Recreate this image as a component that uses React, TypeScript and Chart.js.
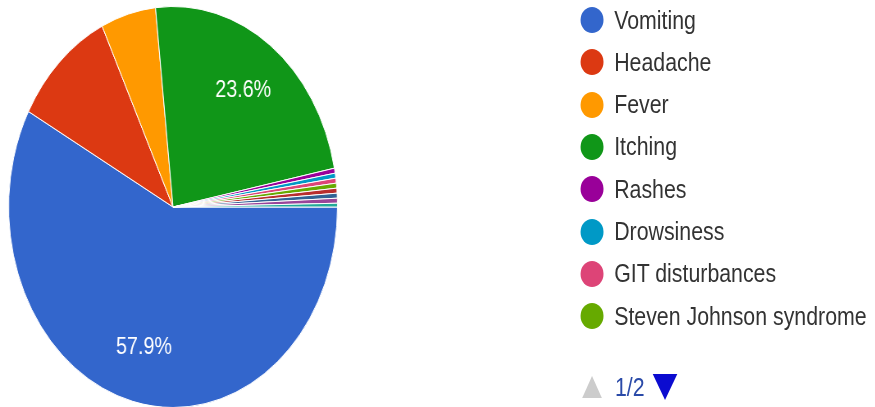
import React, { useEffect, useRef } from "react";
import { Chart, registerables } from "chart.js";

Chart.register(...registerables);

const categories = [
  "Vomiting",
  "Headache",
  "Fever",
  "Itching",
  "Rashes",
  "Drowsiness",
  "GIT disturbances",
  "Steven Johnson syndrome",
  "Nausea",
  "Diarrhoea",
  "Dizziness",
  "Abdominal pain",
];
const seriesValues = [57.9, 10.0, 5.4, 23.6, 0.4, 0.4, 0.4, 0.4, 0.4, 0.4, 0.4, 0.3];
const sliceColors = [
  "#3366cc",
  "#dc3912",
  "#ff9900",
  "#109618",
  "#990099",
  "#0099c6",
  "#dd4477",
  "#66aa00",
  "#b82e2e",
  "#316395",
  "#994499",
  "#22aa99",
];
const legendPageSize = 8;
const pagerLabel = "1/2";

const SQUISH = 0.82;
const FONT = "'Liberation Sans', Arial, sans-serif";

const sliceLabelPlugin = {
  id: "sliceLabels",
  afterDatasetsDraw(chart: any) {
    const meta = chart.getDatasetMeta(0);
    const data = chart.data.datasets[0].data as number[];
    const total = data.reduce((a, b) => a + b, 0);
    const ctx = chart.ctx;
    ctx.save();
    ctx.font = `24px ${FONT}`;
    ctx.fillStyle = "#ffffff";
    ctx.textAlign = "center";
    ctx.textBaseline = "middle";
    meta.data.forEach((arc: any, i: number) => {
      const pct = (data[i] / total) * 100;
      if (pct < 20) return;
      const { x, y, startAngle, endAngle, outerRadius } = arc.getProps(
        ["x", "y", "startAngle", "endAngle", "outerRadius"],
        true
      );
      const mid = (startAngle + endAngle) / 2;
      const r = outerRadius * 0.72;
      ctx.fillText(pct.toFixed(1) + "%", x + Math.cos(mid) * r, y + Math.sin(mid) * r);
    });
    ctx.restore();
  },
};

export default function App() {
  const canvasRef = useRef<HTMLCanvasElement | null>(null);

  useEffect(() => {
    if (!canvasRef.current) return;
    const chart = new Chart(canvasRef.current, {
      type: "pie",
      data: {
        labels: categories,
        datasets: [
          {
            data: seriesValues,
            backgroundColor: sliceColors,
            borderColor: "#ffffff",
            borderWidth: 1,
          },
        ],
      },
      options: {
        responsive: false,
        animation: false,
        rotation: 90,
        layout: { padding: { left: 10, right: 10, top: 6, bottom: 12 } },
        plugins: {
          legend: { display: false },
          tooltip: { enabled: false },
        },
      },
      plugins: [sliceLabelPlugin],
    });
    return () => chart.destroy();
  }, []);

  const rowTop = 20;
  const rowGap = 42.3;

  return (
    <div
      style={{
        position: "fixed",
        left: 0,
        top: 0,
        width: 875,
        height: 407,
        overflow: "hidden",
        background: "#fff",
      }}
    >
      <div
        style={{
          position: "absolute",
          left: 0,
          top: 0,
          width: 875 / SQUISH,
          height: 407,
          transform: `scaleX(${SQUISH})`,
          transformOrigin: "0 0",
          fontFamily: FONT,
        }}
      >
        <canvas
          ref={canvasRef}
          width={422}
          height={420}
          style={{ position: "absolute", left: 0, top: 0 }}
        />
        {categories.slice(0, legendPageSize).map((name, i) => (
          <div
            key={name}
            style={{
              position: "absolute",
              left: 708,
              top: rowTop + i * rowGap - 15,
              height: 30,
              display: "flex",
              alignItems: "center",
              whiteSpace: "nowrap",
            }}
          >
            <span
              style={{
                display: "inline-block",
                width: 28,
                height: 26,
                borderRadius: "50%",
                background: sliceColors[i],
                marginRight: 13,
              }}
            />
            <span style={{ fontSize: 26, color: "#333333" }}>{name}</span>
          </div>
        ))}
        <div
          style={{
            position: "absolute",
            left: 710,
            top: 372,
            height: 30,
            display: "flex",
            alignItems: "center",
          }}
        >
          <span
            style={{
              display: "inline-block",
              width: 0,
              height: 0,
              borderLeft: "12px solid transparent",
              borderRight: "12px solid transparent",
              borderBottom: "22px solid #cccccc",
              marginRight: 16,
            }}
          />
          <span style={{ fontSize: 26, color: "#2a4aa8", marginRight: 10 }}>{pagerLabel}</span>
          <span
            style={{
              display: "inline-block",
              width: 0,
              height: 0,
              borderLeft: "15px solid transparent",
              borderRight: "15px solid transparent",
              borderTop: "26px solid #0b0bd0",
            }}
          />
        </div>
      </div>
    </div>
  );
}
